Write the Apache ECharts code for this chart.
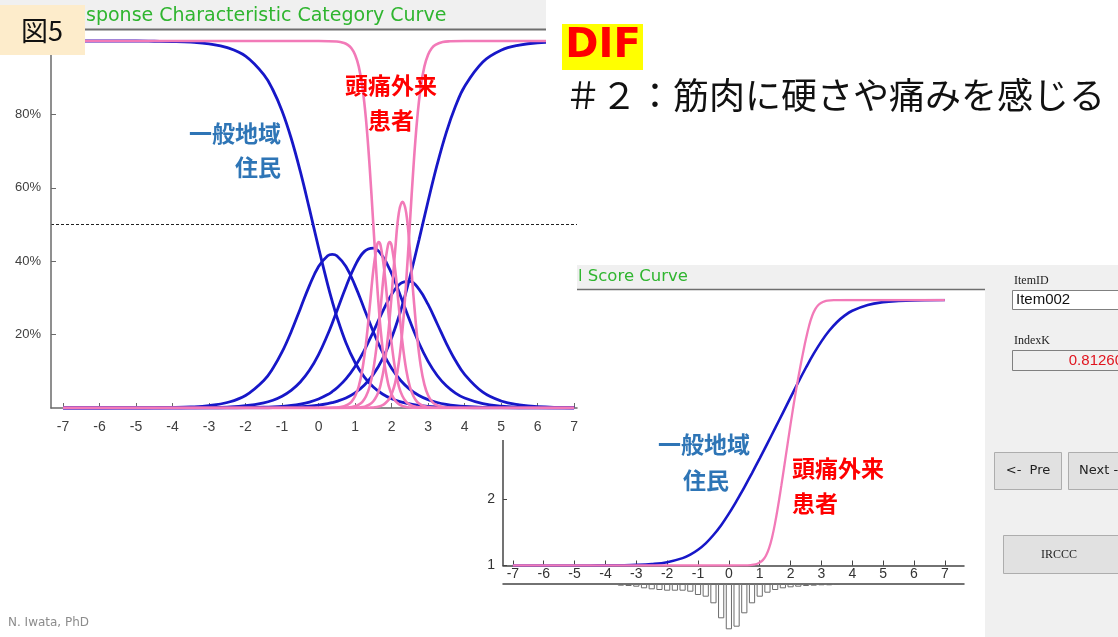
<!DOCTYPE html>
<html><head><meta charset="utf-8">
<script src="https://cdn.jsdelivr.net/npm/echarts@6/dist/echarts.min.js"></script>
<style>html,body{margin:0;padding:0;background:#fff}#c{width:1118px;height:637px}</style>
</head><body><div id="c"></div>
<script>
// ---------- data ----------
const xTicks = [-7,-6,-5,-4,-3,-2,-1,0,1,2,3,4,5,6,7];
const pctTicks = [20,40,60,80,100];
const scoreTicks = [1,2,3,4,5];

// general population (blue) category response curves, percent
const thetaBlue = [-7,-6,-5,-4.5,-4,-3.5,-3,-2.5,-2,-1.5,-1.25,-1,-0.75,-0.5,-0.25,0,0.25,0.375,0.5,0.75,1,1.25,1.5,1.75,2,2.25,2.5,2.75,3,3.25,3.5,3.75,4,4.5,5,5.5,6,7];
const blueCat0 = [100,100,100,99.94,99.86,99.67,99.22,98.19,95.87,90.84,86.65,80.93,73.5,64.45,54.24,43.66,33.63,29.06,24.88,17.8,12.4,8.48,5.71,3.81,2.52,1.66,1.09,0.72,0.47,0.31,0.2,0.13,0.09,0.04,0.02,0,0,0];
const blueCat1 = [0,0,0.03,0.06,0.12,0.28,0.65,1.5,3.41,7.5,10.83,15.26,20.79,27.07,33.36,38.54,41.49,41.88,41.49,38.54,33.36,27.07,20.79,15.26,10.83,7.5,5.09,3.41,2.27,1.5,0.99,0.65,0.43,0.18,0.08,0.04,0.02,0];
const blueCat2 = [0,0,0,0.01,0.02,0.05,0.11,0.26,0.61,1.4,2.12,3.2,4.79,7.07,10.27,14.57,20.03,23.12,26.39,32.99,38.79,42.61,43.56,41.4,36.65,30.37,23.76,17.71,12.71,8.86,6.05,4.07,2.72,1.19,0.51,0.22,0.09,0.02];
const blueCat3 = [0,0,0,0,0,0.01,0.02,0.04,0.09,0.2,0.3,0.46,0.7,1.07,1.62,2.45,3.66,4.47,5.43,7.93,11.32,15.66,20.78,26.18,30.93,33.97,34.51,32.4,28.21,22.96,17.64,12.95,9.17,4.3,1.91,0.85,0.36,0.07];
const blueCat4 = [0,0,0,0,0,0,0,0.01,0.03,0.06,0.09,0.14,0.22,0.34,0.51,0.78,1.19,1.47,1.81,2.74,4.13,6.18,9.16,13.35,19.07,26.5,35.55,45.76,56.34,66.37,75.12,82.2,87.6,94.29,97.48,98.89,99.53,99.91];
const blueScore = [1,1,1,1.001,1.002,1.004,1.009,1.022,1.05,1.111,1.163,1.237,1.334,1.459,1.608,1.782,1.973,2.074,2.178,2.393,2.614,2.84,3.069,3.30,3.532,3.762,3.983,4.191,4.377,4.536,4.665,4.764,4.838,4.926,4.968,4.986,4.994,4.999];

// headache outpatients (pink)
const thetaPink = [-7,0,0.5,0.7,0.8,0.9,1.0,1.1,1.2,1.3,1.4,1.5,1.6,1.65,1.7,1.8,1.9,1.95,2.0,2.1,2.2,2.3,2.4,2.5,2.6,2.7,2.8,2.9,3.0,3.1,3.2,3.4,3.6,4,7];
const pinkCat0 = [100,100,99.85,99.45,98.95,98.02,96.26,93.09,87.54,78.58,65.7,50,34.3,27.39,21.42,12.46,6.91,5.1,3.74,1.98,1.05,0.55,0.29,0.15,0.08,0.04,0.02,0.01,0,0,0,0,0,0,0];
const pinkCat1 = [0,0,0.15,0.47,0.9,1.69,3.19,5.86,10.48,17.68,27.39,37.54,44.28,45.22,44.28,37.54,27.39,22.29,17.68,10.48,5.86,3.19,1.69,0.9,0.47,0.25,0.13,0.07,0.04,0.02,0,0,0,0,0];
const pinkCat2 = [0,0,0,0.07,0.13,0.25,0.47,0.9,1.69,3.19,5.86,10.48,17.68,22.29,27.39,37.54,44.28,45.22,44.28,37.54,27.39,17.68,10.48,5.86,3.19,1.69,0.9,0.47,0.25,0.13,0.07,0.02,0,0,0];
const pinkCat3 = [0,0,0,0.01,0.02,0.04,0.07,0.14,0.27,0.51,0.97,1.83,3.45,4.7,6.36,11.41,19.44,24.67,30.56,43.09,53.24,56.2,53.24,43.09,30.56,19.44,11.41,6.36,3.45,1.83,0.97,0.27,0.08,0.01,0];
const pinkCat4 = [0,0,0,0,0,0,0.01,0.01,0.02,0.04,0.08,0.15,0.29,0.4,0.55,1.05,1.98,2.72,3.74,6.91,12.46,21.42,34.3,50,65.7,78.58,87.54,93.09,96.26,98.02,98.95,99.71,99.92,100,100];
const pinkScore = [1,1,1.002,1.006,1.012,1.023,1.044,1.081,1.148,1.258,1.423,1.646,1.911,2.055,2.203,2.51,2.822,2.976,3.129,3.425,3.702,3.957,4.196,4.419,4.613,4.763,4.863,4.925,4.959,4.979,4.989,4.997,4.999,5,5];

// theta distribution histogram (hanging below the score curve)
const histTheta = [-3.5,-3.25,-3,-2.75,-2.5,-2.25,-2,-1.75,-1.5,-1.25,-1,-0.75,-0.5,-0.25,0,0.25,0.5,0.75,1,1.25,1.5,1.75,2,2.25,2.5,2.75,3,3.25,3.5];
const histCount = [1.7,2,2.7,4.3,5.3,6,6.7,6.7,6.7,7.7,11,12.7,19.3,34.3,45.3,42.7,29.3,19.3,12.7,8.7,6,4.3,3.3,2.7,2,1.7,1.3,1.3,1];

// ---------- chart ----------
const BLUE = '#1717c8', PINK = '#f27ab8';
function pairs(xs, ys){ return xs.map((x,i)=>[x, ys[i]]); }
function curve(name, xs, ys, color, xi, z, w){
  return {type:'line', name, xAxisIndex:xi, yAxisIndex:xi, data:pairs(xs,ys), smooth:0.4,
    showSymbol:false, symbol:'none', z, lineStyle:{color, width:w}, itemStyle:{color}, silent:true};
}
const JP = '"Noto Sans CJK JP"';
function txt(x,y,text,font,fill,align,z){
  return {type:'text', x, y, z, silent:true,
    style:{text, font, fill, textAlign:align||'left', textVerticalAlign:'middle', align:align||'left', verticalAlign:'middle'}};
}
function rect(x,y,w,h,fill,stroke,z,lw){
  return {type:'rect', z, silent:true, shape:{x,y,width:w,height:h}, style:{fill, stroke:stroke||null, lineWidth:lw||1}};
}
function hline(x1,x2,y,stroke,w,z){
  return {type:'line', z, silent:true, shape:{x1,y1:y,x2,y2:y}, style:{stroke, lineWidth:w}};
}

const axisCommon = (color) => ({
  axisLine:{show:true, onZero:false, lineStyle:{color, width:1.5}},
  splitLine:{show:false}
});

const series = [];
[blueCat0,blueCat1,blueCat2,blueCat3,blueCat4].forEach((d,i)=>series.push(curve('b'+i, thetaBlue, d, BLUE, 0, 8, 2.8)));
series[0].markLine = {silent:true, symbol:'none', label:{show:false},
  lineStyle:{color:'#222', width:1, type:[3,2]}, data:[{yAxis:50}]};
[pinkCat0,pinkCat1,pinkCat2,pinkCat3,pinkCat4].forEach((d,i)=>series.push(curve('p'+i, thetaPink, d, PINK, 0, 9, 2.6)));
series.push(curve('bs', thetaBlue, blueScore, BLUE, 1, 3, 2.6));
series.push(curve('ps', thetaPink, pinkScore, PINK, 1, 3, 2.3));
series.push({type:'bar', xAxisIndex:2, yAxisIndex:2, data:pairs(histTheta, histCount), barWidth:6.2,
  z:3, silent:true, itemStyle:{color:'#ffffff', borderColor:'#6d6d6d', borderWidth:1}});

const graphics = [
  // chart 2 frame
  rect(480,265,505,24,'#f0f0f0',null,1),
  hline(480,986,289.5,'#6e6e6e',1.5,1),
  txt(578,277,'l Score Curve','16.5px "DejaVu Sans"','#2fb52f','left',1),
  rect(985,265,133,372,'#f0f0f0',null,1),
  txt(1014,281,'ItemID','12px "Liberation Serif"','#222','left',3),
  rect(1012.5,290.5,110,19,'#ffffff','#808080',3),
  txt(1016,300,'Item002','15px "Liberation Sans"','#111','left',4),
  txt(1014,341,'IndexK','12px "Liberation Serif"','#222','left',3),
  rect(1012.5,350.5,110,20,'#f0f0f0','#808080',3),
  txt(1123,361,'0.81260','15px "Liberation Sans"','#e0141e','right',4),
  rect(994.5,452.5,67,37,'#e1e1e1','#adadad',3),
  txt(1028,471,'<-  Pre','13px "DejaVu Sans"','#222','center',4),
  rect(1068.5,452.5,67,37,'#e1e1e1','#adadad',3),
  txt(1079,471,'Next ->','13px "DejaVu Sans"','#222','left',4),
  rect(1003.5,535.5,130,38,'#e1e1e1','#adadad',3),
  txt(1059,555,'IRCCC','12px "Liberation Serif"','#222','center',4),
  txt(658,444,'一般地域','bold 23px '+JP,'#2e75b6','left',4),
  txt(683,480,'住民','bold 23px '+JP,'#2e75b6','left',4),
  txt(792,468,'頭痛外来','bold 23px '+JP,'#ff0000','left',4),
  txt(792,503,'患者','bold 23px '+JP,'#ff0000','left',4),
  // chart 1 cover & frame
  rect(0,0,577,440,'#ffffff',null,5),
  rect(0,0,577,29,'#f0f0f0',null,6),
  hline(0,577,29.5,'#6e6e6e',2,6),
  txt(86,16,'sponse Characteristic Category Curve','19px "DejaVu Sans"','#2fb52f','left',6),
  txt(281,133,'一般地域','bold 23px '+JP,'#2e75b6','right',10),
  txt(281,167,'住民','bold 23px '+JP,'#2e75b6','right',10),
  txt(391,85,'頭痛外来','bold 23px '+JP,'#ff0000','center',10),
  txt(391,120,'患者','bold 23px '+JP,'#ff0000','center',10),
  rect(0,5,85,50,'#fdeccb',null,11),
  txt(42,31,'図5','27px '+JP,'#111','center',12),
  // slide title
  rect(546,0,572,62,'#ffffff',null,13),
  rect(562,24,81,46,'#ffff00',null,14),
  txt(603,47,'DIF','bold 40px "DejaVu Sans"','#ff0000','center',15),
  txt(565,95,'＃２：筋肉に硬さや痛みを感じる','36px '+JP,'#111','left',15),
  txt(8,623,'N. Iwata, PhD','12px "DejaVu Sans"','#8c8c8c','left',15)
];

const option = {
  animation:false,
  backgroundColor:'#ffffff',
  grid:[
    {left:51, top:30, width:526, height:378},
    {left:503, top:300, width:461, height:265.5},
    {left:503, top:584, width:461, height:53}
  ],
  xAxis:[
    Object.assign({gridIndex:0, type:'value', min:-7.33, max:7.08, z:7,
      axisTick:{show:true, inside:true, length:5, customValues:xTicks, lineStyle:{color:'#6a6a6a'}},
      axisLabel:{customValues:xTicks, margin:12, fontSize:14, color:'#404040', fontFamily:'Liberation Sans'}}, axisCommon('#6a6a6a')),
    Object.assign({gridIndex:1, type:'value', min:-7.32, max:7.62, z:2,
      axisTick:{show:true, inside:true, length:5, customValues:xTicks, lineStyle:{color:'#444'}},
      axisLabel:{customValues:xTicks, margin:2, fontSize:14, color:'#333', fontFamily:'Liberation Sans'}}, axisCommon('#444')),
    Object.assign({gridIndex:2, type:'value', min:-7.32, max:7.62, z:2, position:'top',
      axisTick:{show:false}, axisLabel:{show:false}}, axisCommon('#444'))
  ],
  yAxis:[
    Object.assign({gridIndex:0, type:'value', min:0, max:103, z:7,
      axisTick:{show:true, inside:true, length:5, customValues:pctTicks, lineStyle:{color:'#6a6a6a'}},
      axisLabel:{customValues:pctTicks, formatter:'{value}%', margin:10, fontSize:13, color:'#404040', fontFamily:'Liberation Sans'}}, axisCommon('#6a6a6a')),
    Object.assign({gridIndex:1, type:'value', min:1, max:5, z:2,
      axisTick:{show:true, inside:true, length:4, customValues:scoreTicks, lineStyle:{color:'#444'}},
      axisLabel:{customValues:scoreTicks, margin:8, fontSize:14, color:'#333', fontFamily:'Liberation Sans'}}, axisCommon('#444')),
    {gridIndex:2, type:'value', min:0, max:53, inverse:true, show:false, splitLine:{show:false}}
  ],
  series,
  graphic:{elements:graphics}
};
const chart = echarts.init(document.getElementById('c'), null, {renderer:'canvas'});
chart.setOption(option);
</script></body></html>
